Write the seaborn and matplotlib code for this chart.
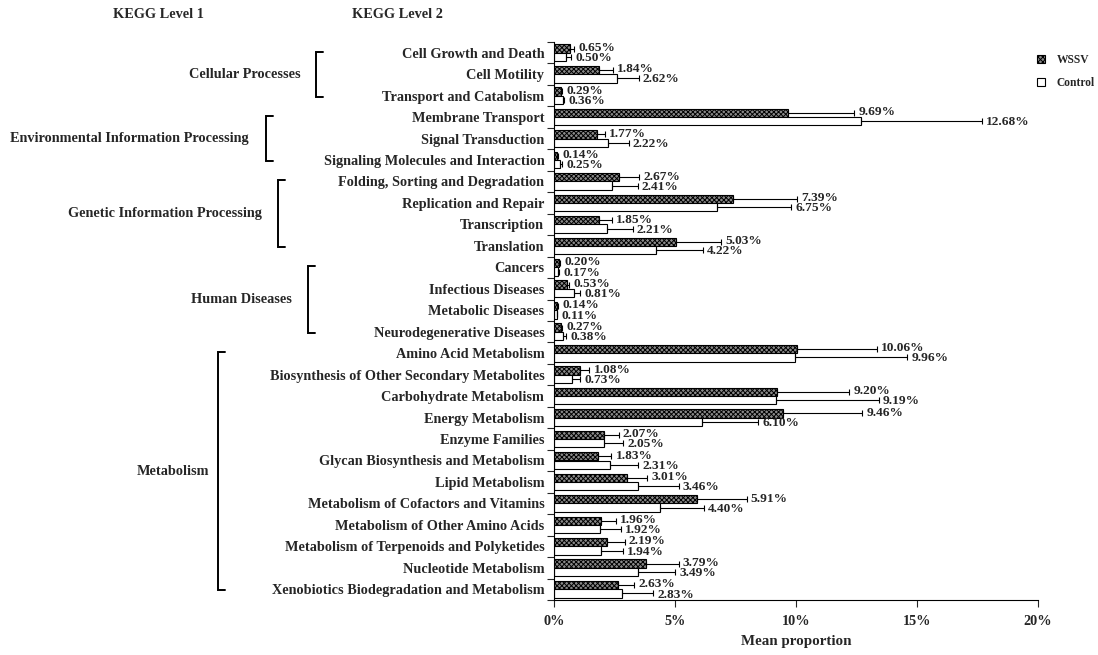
import numpy as np
import pandas as pd
import matplotlib
matplotlib.use("Agg")
import matplotlib.pyplot as plt
import matplotlib.transforms as mtransforms
from matplotlib.patches import Patch
from matplotlib.ticker import FixedLocator, FuncFormatter
import seaborn as sns

# KEGG level-2 pathways (top to bottom)
pathways = [
    "Cell Growth and Death", "Cell Motility", "Transport and Catabolism",
    "Membrane Transport", "Signal Transduction", "Signaling Molecules and Interaction",
    "Folding, Sorting and Degradation", "Replication and Repair", "Transcription", "Translation",
    "Cancers", "Infectious Diseases", "Metabolic Diseases", "Neurodegenerative Diseases",
    "Amino Acid Metabolism", "Biosynthesis of Other Secondary Metabolites",
    "Carbohydrate Metabolism", "Energy Metabolism", "Enzyme Families",
    "Glycan Biosynthesis and Metabolism", "Lipid Metabolism",
    "Metabolism of Cofactors and Vitamins", "Metabolism of Other Amino Acids",
    "Metabolism of Terpenoids and Polyketides", "Nucleotide Metabolism",
    "Xenobiotics Biodegradation and Metabolism",
]

# KEGG level-1 groups: name and number of level-2 pathways in each
level1_names = ["Cellular Processes", "Environmental Information Processing",
                "Genetic Information Processing", "Human Diseases", "Metabolism"]
level1_sizes = [3, 3, 4, 4, 12]

# Mean proportion (%) per group
wssv = [0.65, 1.84, 0.29, 9.69, 1.77, 0.14, 2.67, 7.39, 1.85, 5.03,
        0.20, 0.53, 0.14, 0.27, 10.06, 1.08, 9.20, 9.46, 2.07, 1.83,
        3.01, 5.91, 1.96, 2.19, 3.79, 2.63]
control = [0.50, 2.62, 0.36, 12.68, 2.22, 0.25, 2.41, 6.75, 2.21, 4.22,
           0.17, 0.81, 0.11, 0.38, 9.96, 0.73, 9.19, 6.10, 2.05, 2.31,
           3.46, 4.40, 1.92, 1.94, 3.49, 2.83]

# Standard deviations (%)
wssv_sd = [0.18, 0.58, 0.05, 2.72, 0.34, 0.03, 0.86, 2.64, 0.55, 1.88,
           0.05, 0.11, 0.03, 0.06, 3.27, 0.38, 3.00, 3.27, 0.60, 0.54,
           0.85, 2.05, 0.60, 0.73, 1.36, 0.69]
control_sd = [0.22, 0.88, 0.06, 4.99, 0.87, 0.08, 1.05, 3.06, 1.04, 1.92,
              0.04, 0.28, 0.02, 0.12, 4.64, 0.36, 4.23, 2.34, 0.80, 1.16,
              1.69, 1.80, 0.83, 0.91, 1.51, 1.27]

groups = ["WSSV", "Control"]
x_ticks = [0, 5, 10, 15, 20]

df = pd.DataFrame({
    "Pathway": pathways * 2,
    "Mean": wssv + control,
    "SD": wssv_sd + control_sd,
    "Group": ["WSSV"] * len(pathways) + ["Control"] * len(pathways),
})

sns.set_theme(style="ticks")
plt.rcParams["font.family"] = ["Liberation Serif", "DejaVu Serif"]
plt.rcParams["font.weight"] = "bold"
plt.rcParams["hatch.linewidth"] = 0.7
plt.rcParams["hatch.color"] = "#1a1a1a"

WSSV_FILL = "#8a8a8a"

W, H = 1098, 655
fig = plt.figure(figsize=(W / 100, H / 100), dpi=100)
ax = fig.add_axes([554 / W, 1 - 600 / H, (1038 - 554) / W, (600 - 42) / H])

sns.barplot(data=df, y="Pathway", x="Mean", hue="Group", hue_order=groups,
            order=pathways, orient="h",
            palette={"WSSV": WSSV_FILL, "Control": "white"},
            edgecolor="black", linewidth=0.8, width=0.78,
            errorbar=None, legend=False, ax=ax)

sd_by_group = {"WSSV": wssv_sd, "Control": control_sd}
mean_by_group = {"WSSV": wssv, "Control": control}
for cont, grp in zip(ax.containers, groups):
    ys, xs = [], []
    for patch in cont.patches:
        if grp == "WSSV":
            patch.set_hatch("xxxxxxx")
        ys.append(patch.get_y() + patch.get_height() / 2)
        xs.append(patch.get_width())
    sds = sd_by_group[grp]
    ax.errorbar(xs, ys, xerr=[np.zeros(len(sds)), sds], fmt="none",
                ecolor="black", elinewidth=0.8, capsize=2.5, capthick=0.8)
    dy = -0.8 if grp == "Control" else 0.5
    for x, y, s, m in zip(xs, ys, sds, mean_by_group[grp]):
        ax.annotate(f"{m:.2f}%", xy=(x + s, y), xytext=(3, dy),
                    textcoords="offset points", ha="left", va="center",
                    fontsize=9.6, fontweight="bold")

# Axes styling
n = len(pathways)
ax.set_xlim(0, 20)
ax.set_ylim(n - 0.5, -0.5)
ax.xaxis.set_major_locator(FixedLocator(x_ticks))
ax.xaxis.set_major_formatter(FuncFormatter(lambda v, p: f"{v:.0f}%"))
ax.yaxis.set_minor_locator(FixedLocator(np.arange(-0.5, n, 1.0)))
ax.tick_params(axis="y", which="major", length=0, pad=7, labelsize=10.3)
ax.tick_params(axis="y", which="minor", length=5, width=0.8, direction="out")
ax.tick_params(axis="x", which="major", length=5, width=0.8, pad=6, labelsize=10.3)
for lbl in ax.get_yticklabels() + ax.get_xticklabels():
    lbl.set_fontweight("bold")
ax.set_ylabel("")
ax.set_xlabel("Mean proportion", fontsize=10.8, fontweight="bold", labelpad=5)
for side in ["top", "right"]:
    ax.spines[side].set_visible(False)
for side in ["left", "bottom"]:
    ax.spines[side].set_linewidth(0.8)
    ax.spines[side].set_color("black")

# Column headers
fig.text(158 / W, 1 - 14 / H, "KEGG Level 1", ha="center", va="center",
         fontsize=10.3, fontweight="bold")
fig.text(397 / W, 1 - 14 / H, "KEGG Level 2", ha="center", va="center",
         fontsize=10.3, fontweight="bold")

# Level-1 group labels with brackets
trans = mtransforms.blended_transform_factory(fig.transFigure, ax.transData)
bracket_x = [316, 266, 278, 308, 218]
label_right = [301, 249, 262, 292, 209]
start = 0
for name, size, bx, lx in zip(level1_names, level1_sizes, bracket_x, label_right):
    y0, y1 = start, start + size - 1
    xb = bx / W
    xs_ = (bx + 7) / W
    ax.plot([xs_, xb, xb, xs_], [y0 - 0.05, y0 - 0.05, y1 + 0.05, y1 + 0.05],
            transform=trans, color="black", lw=1.4, clip_on=False,
            solid_joinstyle="miter")
    fig.text(lx / W, (y0 + y1) / 2, name, transform=trans, ha="right",
             va="center", fontsize=10.3, fontweight="bold")
    start += size

# Legend
handles = [Patch(facecolor=WSSV_FILL, edgecolor="black", hatch="xxxxxxx", lw=0.8),
           Patch(facecolor="white", edgecolor="black", lw=0.8)]
fig.legend(handles, groups, loc="upper left", bbox_to_anchor=(1027 / W, 1 - 44 / H),
           frameon=False, prop={"size": 8.3, "weight": "bold"},
           handlelength=0.7, handleheight=0.7, handletextpad=1.0,
           labelspacing=0.95)

fig.savefig("out.png", dpi=100)
